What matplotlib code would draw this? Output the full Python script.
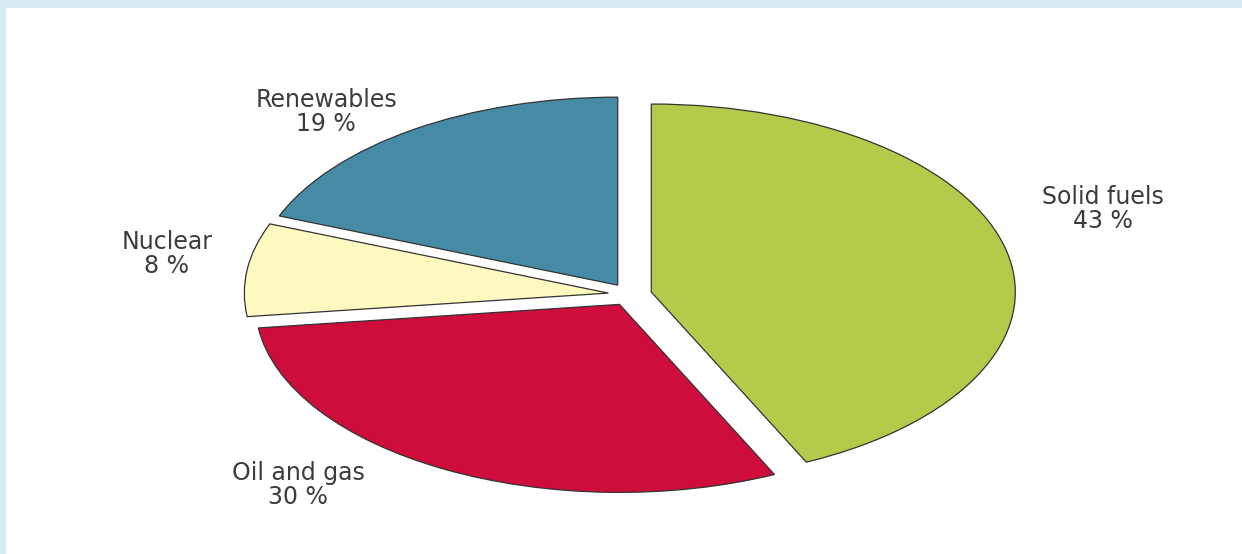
import matplotlib.pyplot as plt
import matplotlib.patches as mpatches

# share of each source, clockwise from the top
sources = ['Solid fuels', 'Oil and gas', 'Nuclear', 'Renewables']
shares = [43, 30, 8, 19]
colors = ['#b3cb4b', '#ce0d3c', '#fff8bf', '#458ba5']

# label anchor points (data coords of the stretched pie axes)
label_pos = [(1.30, 0.455), (-0.912, -1.013), (-1.272, 0.215), (-0.835, 0.971)]

fig = plt.figure(figsize=(12.42, 5.54), dpi=100)
fig.patch.set_facecolor('#d5edf1')
# white inner panel (light blue strip left and top)
fig.patches.append(mpatches.Rectangle((6/1242, 0), 1, 1 - 8/554,
                                      transform=fig.transFigure,
                                      facecolor='white', edgecolor='none',
                                      zorder=-5))

ax = fig.add_axes([0, 0, 1, 1])
ax.patch.set_alpha(0)

wedges, _ = ax.pie(shares, colors=colors, startangle=90, counterclock=False,
                   explode=[0.06] * len(shares),
                   wedgeprops=dict(edgecolor='#333333', linewidth=0.9))

# the original pie is stretched sideways
ax.set_aspect('auto')
ax.set_xlim(-630/364, (1242-630)/364)
ax.set_ylim(-259.5/188, (554-259.5)/188)
ax.axis('off')

for name, val, (x, y) in zip(sources, shares, label_pos):
    ax.text(x, y, f'{name}\n{val} %', ha='center', va='center',
            fontsize=17, color='#3c3c3c', family='DejaVu Sans',
            linespacing=1.0)

fig.savefig('out.png', dpi=100)
